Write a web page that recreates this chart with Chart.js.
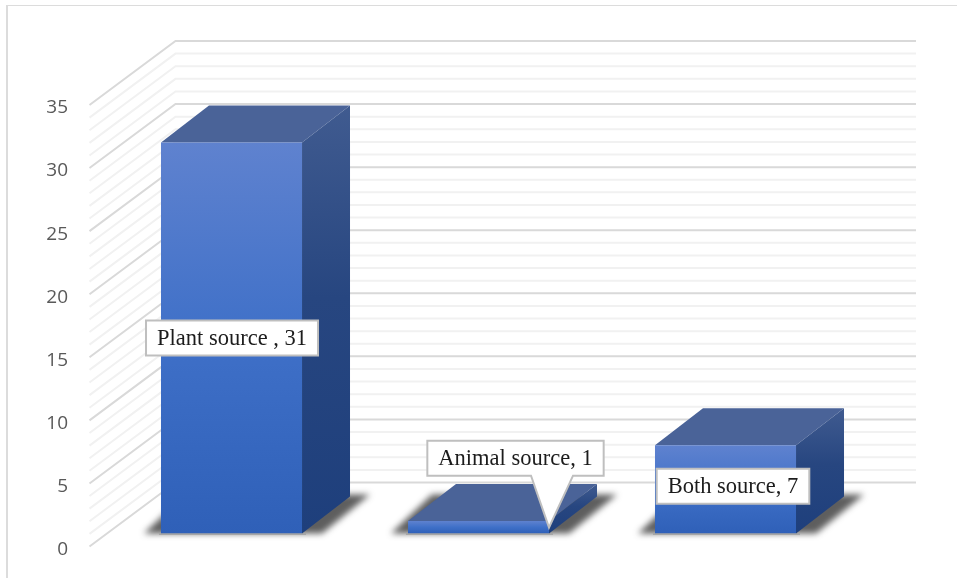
<!DOCTYPE html>
<html>
<head>
<meta charset="utf-8">
<title>Source chart</title>
<script src="https://cdn.jsdelivr.net/npm/chart.js@4"></script>
<style>
    html, body { margin: 0; padding: 0; background: #fff; overflow: hidden; }
    #wrap { position: relative; width: 957px; height: 578px; }
    #frame { position: absolute; left: 6px; top: 5px; right: -4px; bottom: -4px; border: 2px solid #dcdcdc; border-top-width: 1.5px; }
    canvas { position: absolute; left: 0; top: 0; }
</style>
</head>
<body>
<div id="wrap">
    <div id="frame"></div>
    <canvas id="sourceChart" width="957" height="578"></canvas>
</div>
<script>
// Chart data
const categories = ['Plant source ', 'Animal source', 'Both source'];
const counts = [31, 1, 7];
const yTicks = [0, 5, 10, 15, 20, 25, 30, 35];
const minorGridValues = [1, 2, 3, 4, 6, 7, 8, 9, 11, 12, 13, 14, 16, 17, 18, 19, 21, 22, 23, 24, 26, 27, 28, 29, 31, 32, 33, 34];

// Look of the fake 3D box
const LABEL_DROP = 3;                  // tick labels sit a little below the wall lines
const WALL_DX = 86, WALL_DY = 64;      // depth of the back wall
const BOX_DX = 48, BOX_DY = 37;        // depth of each bar
const BAR_LIFT = 13 + LABEL_DROP;      // bars stand in front of the axis plane
const WALL_RIGHT = 916;

// Callout box centre relative to the bar: dx from bar centre, dy from bar front middle
const calloutShift = [
    { dx: 0.5, dy: 0, pointer: false },
    { dx: 37, dy: -69, pointer: true },
    { dx: 7.5, dy: -3, pointer: false }
];

function wallLine(ctx, y, left, color, width) {
    ctx.strokeStyle = color;
    ctx.lineWidth = width;
    ctx.beginPath();
    ctx.moveTo(left, y);
    ctx.lineTo(left + WALL_DX, y - WALL_DY);
    ctx.lineTo(WALL_RIGHT, y - WALL_DY);
    ctx.stroke();
}

function polygon(ctx, pts, fill) {
    ctx.fillStyle = fill;
    ctx.beginPath();
    pts.forEach((p, i) => i ? ctx.lineTo(p[0], p[1]) : ctx.moveTo(p[0], p[1]));
    ctx.closePath();
    ctx.fill();
}

const box3d = {
    id: 'box3d',
    beforeDatasetsDraw(chart) {
        const ctx = chart.ctx;
        const y = chart.scales.y;
        const left = 89.5;

        ctx.save();
        minorGridValues.forEach(v => wallLine(ctx, y.getPixelForValue(v) - LABEL_DROP, left, '#f1f1f1', 2));
        yTicks.forEach(v => wallLine(ctx, y.getPixelForValue(v) - LABEL_DROP, left, '#d9d9d9', 2));

        chart.getDatasetMeta(0).data.forEach(bar => {
            const w = bar.width;
            const x0 = bar.x - w / 2, x1 = bar.x + w / 2;
            const top = bar.y - BAR_LIFT, base = bar.base - BAR_LIFT;

            // floor shadow
            ctx.save();
            ctx.filter = 'blur(3px)';
            polygon(ctx, [[x0 - 17, base], [x1 + 20, base], [x1 + BOX_DX + 20, base - BOX_DY - 2], [x0 + 24, base - BOX_DY - 2]], 'rgba(40,40,40,0.75)');
            ctx.restore();
            ctx.fillStyle = 'rgba(150,150,150,0.6)';
            ctx.fillRect(x0 - 2, base, w + 6, 1.5);

            // top face
            polygon(ctx, [[x0, top], [x1, top], [x1 + BOX_DX, top - BOX_DY], [x0 + BOX_DX, top - BOX_DY]], '#4a6398');

            // side face
            const side = ctx.createLinearGradient(x1, top - BOX_DY, x1, base);
            side.addColorStop(0, '#405b90');
            side.addColorStop(0.45, '#274680');
            side.addColorStop(1, '#1e3f7c');
            polygon(ctx, [[x1, top], [x1 + BOX_DX, top - BOX_DY], [x1 + BOX_DX, base - BOX_DY], [x1, base]], side);
        });
        ctx.restore();

        // the front faces are the real bars, lifted off the axis plane
        ctx.save();
        ctx.translate(0, -BAR_LIFT);
    },
    afterDatasetsDraw(chart) {
        const ctx = chart.ctx;
        ctx.restore();

        ctx.save();
        ctx.font = '22.5px "Liberation Serif"';
        ctx.textAlign = 'center';
        ctx.textBaseline = 'middle';
        chart.getDatasetMeta(0).data.forEach((bar, i) => {
            const text = categories[i] + ', ' + counts[i];
            const place = calloutShift[i];
            const top = bar.y - BAR_LIFT, base = bar.base - BAR_LIFT;
            const cx = bar.x + place.dx;
            const cy = (top + base) / 2 + place.dy;
            const boxW = ctx.measureText(text).width + 22;
            const boxH = 35;
            const l = cx - boxW / 2, r = cx + boxW / 2, t = cy - boxH / 2, b = cy + boxH / 2;

            ctx.beginPath();
            ctx.moveTo(l, t);
            ctx.lineTo(r, t);
            ctx.lineTo(r, b);
            if (place.pointer) {
                const tipX = bar.x + bar.width / 2;
                ctx.lineTo(tipX + 24, b);
                ctx.lineTo(tipX, base - 6);
                ctx.lineTo(tipX - 18, b);
            }
            ctx.lineTo(l, b);
            ctx.closePath();
            ctx.fillStyle = '#fff';
            ctx.fill();
            ctx.strokeStyle = '#bfbfbf';
            ctx.lineWidth = 2;
            ctx.stroke();

            ctx.fillStyle = '#1c1c1c';
            ctx.fillText(text, cx, cy + 1);
        });
        ctx.restore();
    }
};

function frontGradient(context) {
    const chart = context.chart;
    const y = chart.scales.y;
    if (context.type !== 'data' || !y) return '#3f70c8';
    const top = y.getPixelForValue(context.raw);
    const base = y.getPixelForValue(0);
    if (!Number.isFinite(top) || !Number.isFinite(base)) return '#3f70c8';
    const g = chart.ctx.createLinearGradient(0, top, 0, base);
    g.addColorStop(0, '#5f82cf');
    g.addColorStop(0.5, '#3f70c8');
    g.addColorStop(1, '#2f60b8');
    return g;
}

new Chart(document.getElementById('sourceChart').getContext('2d'), {
    type: 'bar',
    data: {
        labels: categories,
        datasets: [{
            data: counts,
            backgroundColor: frontGradient,
            borderWidth: 0,
            barPercentage: 0.571,
            categoryPercentage: 1
        }]
    },
    options: {
        responsive: false,
        animation: false,
        layout: { padding: { left: 0, right: 108, top: 108, bottom: 28.5 } },
        plugins: { legend: { display: false }, tooltip: { enabled: false } },
        scales: {
            x: { display: false },
            y: {
                min: 0,
                max: 35,
                // the big tick padding must not eat into the plot height
                afterFit(scale) {
                    scale.width = 108;
                    scale.paddingTop = 0;
                    scale.paddingBottom = 0;
                },
                grid: { display: false, drawTicks: false },
                border: { display: false },
                ticks: {
                    stepSize: 5,
                    padding: 40,
                    color: '#595959',
                    font: { family: '"Open Sans"', size: 19 }
                }
            }
        }
    },
    plugins: [box3d]
});
</script>
</body>
</html>
